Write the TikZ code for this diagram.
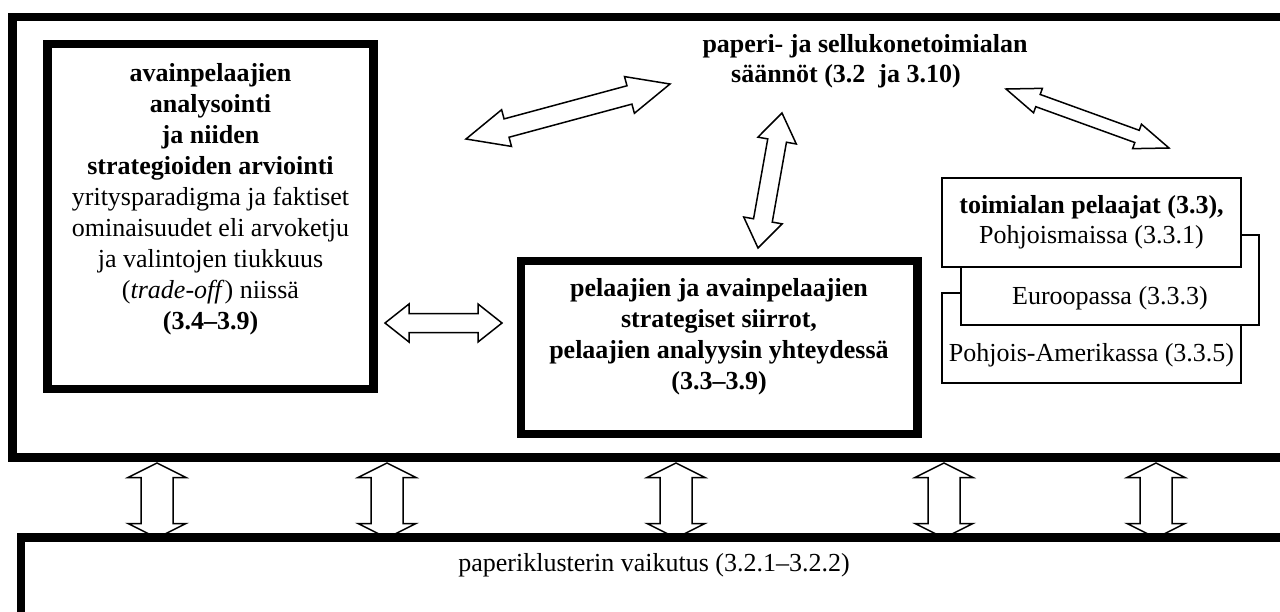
\documentclass[tikz,border=0pt]{standalone}
\usepackage{fontspec}
\setmainfont{Liberation Serif}
\usetikzlibrary{calc}

% Hollow double-headed block arrow between two named points:
% #1,#2 tips, #3 half shaft width, #4 half head width, #5 head length
\newcommand\dblarrow[5]{%
  \draw[blockarrow] (#1)
    -- ($(#1)!#5!(#2)!#4!90:(#2)$)
    -- ($(#1)!#5!(#2)!#3!90:(#2)$)
    -- ($(#2)!#5!(#1)!#3!-90:(#1)$)
    -- ($(#2)!#5!(#1)!#4!-90:(#1)$)
    -- (#2)
    -- ($(#2)!#5!(#1)!#4!90:(#1)$)
    -- ($(#2)!#5!(#1)!#3!90:(#1)$)
    -- ($(#1)!#5!(#2)!#3!-90:(#2)$)
    -- ($(#1)!#5!(#2)!#4!-90:(#2)$)
    -- cycle;}

\tikzset{
  frame/.style={draw=black, line width=8.5pt, line join=miter},
  thinbox/.style={draw=black, fill=white, line width=1.5pt},
  blockarrow/.style={draw=black, fill=white, line width=1.5pt, line join=miter},
  txt/.style={font=\fontsize{26}{31}\selectfont, align=center, inner sep=0pt},
}

\begin{document}
\begin{tikzpicture}[x=1pt,y=-1pt]
\useasboundingbox (0,0) rectangle (1280,611);
\clip (0,0) rectangle (1280,611);
\fill[white] (0,0) rectangle (1280,611);

% links between the industry frame and the cluster frame
\foreach \i/\xx in {1/157,2/387,3/676,4/944,5/1156}{
  \coordinate (up\i) at (\xx,463);
  \coordinate (dn\i) at (\xx,538);
  \dblarrow{up\i}{dn\i}{16pt}{29pt}{14.5pt}
}

% outer frames (running off the right and bottom edges)
\draw[frame] (12.5,17) rectangle (1300,457.5);
\draw[frame] (21,537.5) rectangle (1300,660);

% key players box
\draw[frame] (47.5,44) rectangle (373.5,389);
\node[txt] (keys) at (210.5,199) {%
  \textbf{avainpelaajien}\\
  \textbf{analysointi}\\
  \textbf{ja niiden}\\
  \textbf{strategioiden arviointi}\\
  yritysparadigma ja faktiset\\
  ominaisuudet eli arvoketju\\
  ja valintojen tiukkuus\\
  (\textit{trade-off}) niissä\\
  \textbf{(3.4–3.9)}};

% strategic moves box
\draw[frame] (521,261) rectangle (917.5,434);
\node[txt, font=\fontsize{26}{31}\selectfont\bfseries] (moves) at (719,337) {%
  pelaajien ja avainpelaajien\\
  strategiset siirrot,\\
  pelaajien analyysin yhteydessä\\
  (3.3–3.9)};

% industry rules
\node[txt, font=\fontsize{26}{30}\selectfont\bfseries] (rules) at (865,61) {%
  paperi- ja sellukonetoimialan\\
  säännöt (3.2\ \ ja 3.10)\hspace*{38pt}};

% stacked regional player boxes
\draw[thinbox] (942,293) rectangle (1241,383);
\draw[thinbox] (961,235) rectangle (1259,325);
\draw[thinbox] (942,178) rectangle (1241,267);
\node[txt, font=\fontsize{26}{30}\selectfont] (nordic) at (1091.5,222) {%
  \textbf{toimialan pelaajat (3.3),}\\ Pohjoismaissa (3.3.1)};
\node[txt] (europe) at (1110,298) {Euroopassa (3.3.3)};
\node[txt] (namerica) at (1091.5,355) {Pohjois-Amerikassa (3.3.5)};

% cluster text
\node[txt] (cluster) at (654,565) {paperiklusterin vaikutus (3.2.1–3.2.2)};

% arrows inside the industry frame
\coordinate (a1s) at (466,139);  \coordinate (a1e) at (670,84);
\coordinate (a2s) at (782,113);  \coordinate (a2e) at (758,248);
\coordinate (a3s) at (1006,89);  \coordinate (a3e) at (1169,148);
\coordinate (a4s) at (385,323);  \coordinate (a4e) at (502,323);
\dblarrow{a1s}{a1e}{9.5pt}{19pt}{42pt}
\dblarrow{a2s}{a2e}{9.5pt}{19.5pt}{28pt}
\dblarrow{a3s}{a3e}{6.5pt}{13pt}{34pt}
\dblarrow{a4s}{a4e}{9.5pt}{19pt}{24pt}
\end{tikzpicture}
\end{document}
